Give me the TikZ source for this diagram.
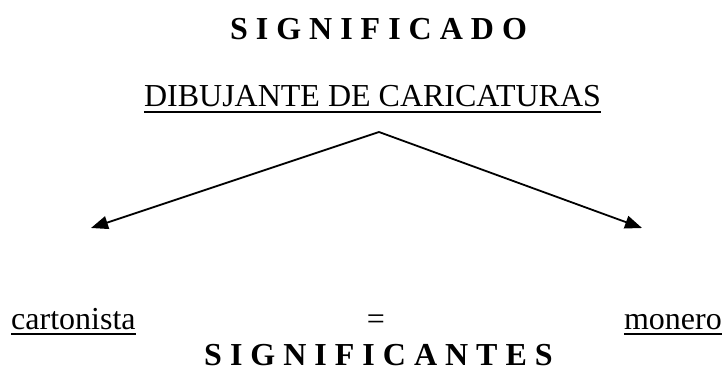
\documentclass[tikz,border=0pt]{standalone}
\usepackage{fontspec}
\setmainfont{Liberation Serif}
\usetikzlibrary{arrows.meta}
\begin{document}
\begin{tikzpicture}[x=1pt,y=-1pt,
  txt/.style={inner sep=0pt,font=\fontsize{32}{38}\selectfont},
  ttl/.style={inner sep=0pt,font=\fontsize{32}{38}\selectfont\bfseries},
  uline/.style={line width=2pt},
  arr/.style={line width=1.8pt,-{Triangle[length=17pt,width=13pt]}}]
\useasboundingbox (0,0) rectangle (725,371);
\node[ttl,anchor=base] (top) at (378.5,40) {S I G N I F I C A D O};
\node[txt,anchor=base] (dib) at (372.5,107) {DIBUJANTE DE CARICATURAS};
\draw[uline] ([yshift=-5pt]dib.base west) -- ([yshift=-5pt]dib.base east);
\coordinate (apex) at (379,132);
\coordinate (tipL) at (91,228);
\coordinate (tipR) at (642,228);
\draw[arr] (apex) -- (tipL);
\draw[arr] (apex) -- (tipR);
\node[txt,anchor=base west] (cart) at (11,329) {cartonista};
\draw[uline] ([yshift=-5pt]cart.base west) -- ([yshift=-5pt]cart.base east);
\node[txt,anchor=base] (eq) at (376,329) {=};
\node[txt,anchor=base east] (mon) at (722,329) {monero};
\draw[uline] ([yshift=-5pt]mon.base west) -- ([yshift=-5pt]mon.base east);
\node[ttl,anchor=base] (bot) at (378.5,365) {S I G N I F I C A N T E S};
\end{tikzpicture}
\end{document}
